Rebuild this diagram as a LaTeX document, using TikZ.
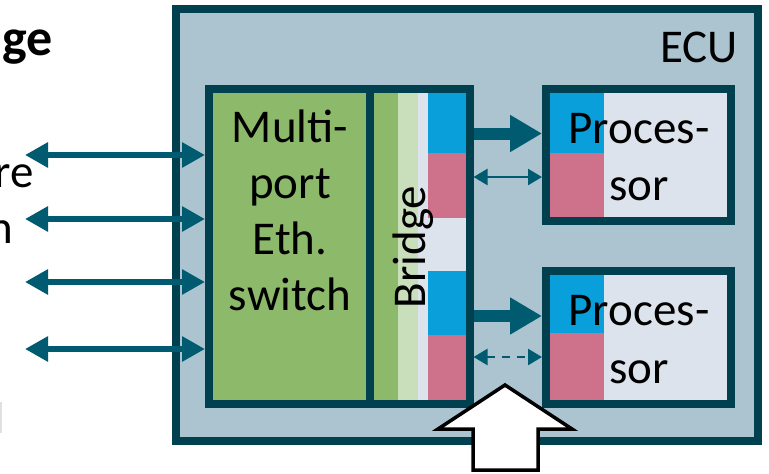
\documentclass[tikz,border=0pt]{standalone}
\usepackage{fontspec}
\setmainfont{Carlito}
\usetikzlibrary{arrows.meta}
\definecolor{ecufill}{HTML}{ABC4D0}
\definecolor{border}{HTML}{00404F}
\definecolor{arrowc}{HTML}{005A70}
\definecolor{swgreen}{HTML}{8DB96A}
\definecolor{ltgreen}{HTML}{C9DFBC}
\definecolor{ltgray}{HTML}{DDE3EC}
\definecolor{pblue}{HTML}{089FDA}
\definecolor{ppink}{HTML}{CE728B}
\begin{document}
\begin{tikzpicture}[x=1pt,y=-1pt,
  every node/.style={inner sep=0pt},
  txt/.style={font=\fontsize{47}{56}\selectfont, text=black},
  box/.style={draw=border, line width=8pt, rectangle},
  portarrow/.style={draw=arrowc, line width=6.5pt, {Triangle[length=23pt,width=24pt]}-{Triangle[length=23pt,width=24pt]}},
  fatarrow/.style={draw=arrowc, line width=12pt, -{Triangle[length=32pt,width=35pt]}},
  thinarrow/.style={draw=arrowc, line width=2.5pt, {Triangle[length=14pt,width=16pt]}-{Triangle[length=14pt,width=16pt]}}]
\useasboundingbox (0,0) rectangle (769,474);
\clip (0,0) rectangle (769,474);

% left cut-off texts
\node[txt, font=\fontsize{52}{60}\selectfont\bfseries, anchor=base east] (t1) at (53,55) {dge};
\node[txt, anchor=base east] (t2) at (34,187) {re};
\node[txt, anchor=base east] (t3) at (13,243) {n};
\fill[black!12] (0,402) rectangle (2,433);

% ECU
\node[box, fill=ecufill, minimum width=582pt, minimum height=432pt] (ecu) at (467,225) {};
\node[txt, anchor=base east] (eculbl) at (738,62) {ECU};

% switch and bridge
\node[box, fill=swgreen, minimum width=161pt, minimum height=315pt] (sw) at (289.5,246.5) {};
\node[box, fill=ltgray, minimum width=99.5pt, minimum height=315pt] (br) at (419.75,246.5) {};
\fill[swgreen] (374,93) rectangle (398,400);
\fill[ltgreen] (398,93) rectangle (418,400);
\fill[pblue] (428,93) rectangle (465.5,153);
\fill[ppink] (428,153) rectangle (465.5,218);
\fill[pblue] (428,271) rectangle (465.5,335);
\fill[ppink] (428,335) rectangle (465.5,400);

\node[txt, anchor=base] (sw1) at (290,142) {Multi-};
\node[txt, anchor=base] (sw2) at (290,198) {port};
\node[txt, anchor=base] (sw3) at (290,254) {Eth.};
\node[txt, anchor=base] (sw4) at (290,310) {switch};
\node[txt, rotate=90, anchor=base] (brl) at (425,247) {Bridge};

% processors
\node[box, fill=ltgray, minimum width=184.5pt, minimum height=131.5pt] (p1) at (638.25,154.75) {};
\fill[pblue] (550,93) rectangle (604,153);
\fill[ppink] (550,153) rectangle (604,216.5);
\node[box, fill=ltgray, minimum width=184.5pt, minimum height=132.5pt] (p2) at (638.25,337.25) {};
\fill[pblue] (550,275) rectangle (604,333);
\fill[ppink] (550,333) rectangle (604,399.5);
\node[txt, anchor=base] (p1a) at (639,143) {Proces-};
\node[txt, anchor=base] (p1b) at (639,200) {sor};
\node[txt, anchor=base] (p2a) at (639,325) {Proces-};
\node[txt, anchor=base] (p2b) at (639,383) {sor};

% port arrows
\coordinate (l1) at (25,155);
\coordinate (l2) at (25,219);
\coordinate (l3) at (25,282);
\coordinate (l4) at (25,349);
\draw[portarrow] (l1) -- (l1 -| sw.west);
\draw[portarrow] (l2) -- (l2 -| sw.west);
\draw[portarrow] (l3) -- (l3 -| sw.west);
\draw[portarrow] (l4) -- (l4 -| sw.west);

% bridge to processor arrows
\coordinate (y1) at (0,133.5);
\coordinate (y2) at (0,177);
\coordinate (y3) at (0,316);
\coordinate (y4) at (0,357);
\draw[fatarrow] (br.east |- y1) -- (p1.west |- y1);
\draw[thinarrow] (br.east |- y2) -- (p1.west |- y2);
\draw[fatarrow] (br.east |- y3) -- (p2.west |- y3);
\draw[thinarrow, dash pattern=on 8pt off 7pt] (br.east |- y4) -- (p2.west |- y4);

% big white arrow
\draw[line width=3.5pt, fill=white, line join=miter] (505,385) -- (572,429) -- (538,429) -- (538,470) -- (473,470) -- (473,429) -- (438,429) -- cycle;
\end{tikzpicture}
\end{document}
